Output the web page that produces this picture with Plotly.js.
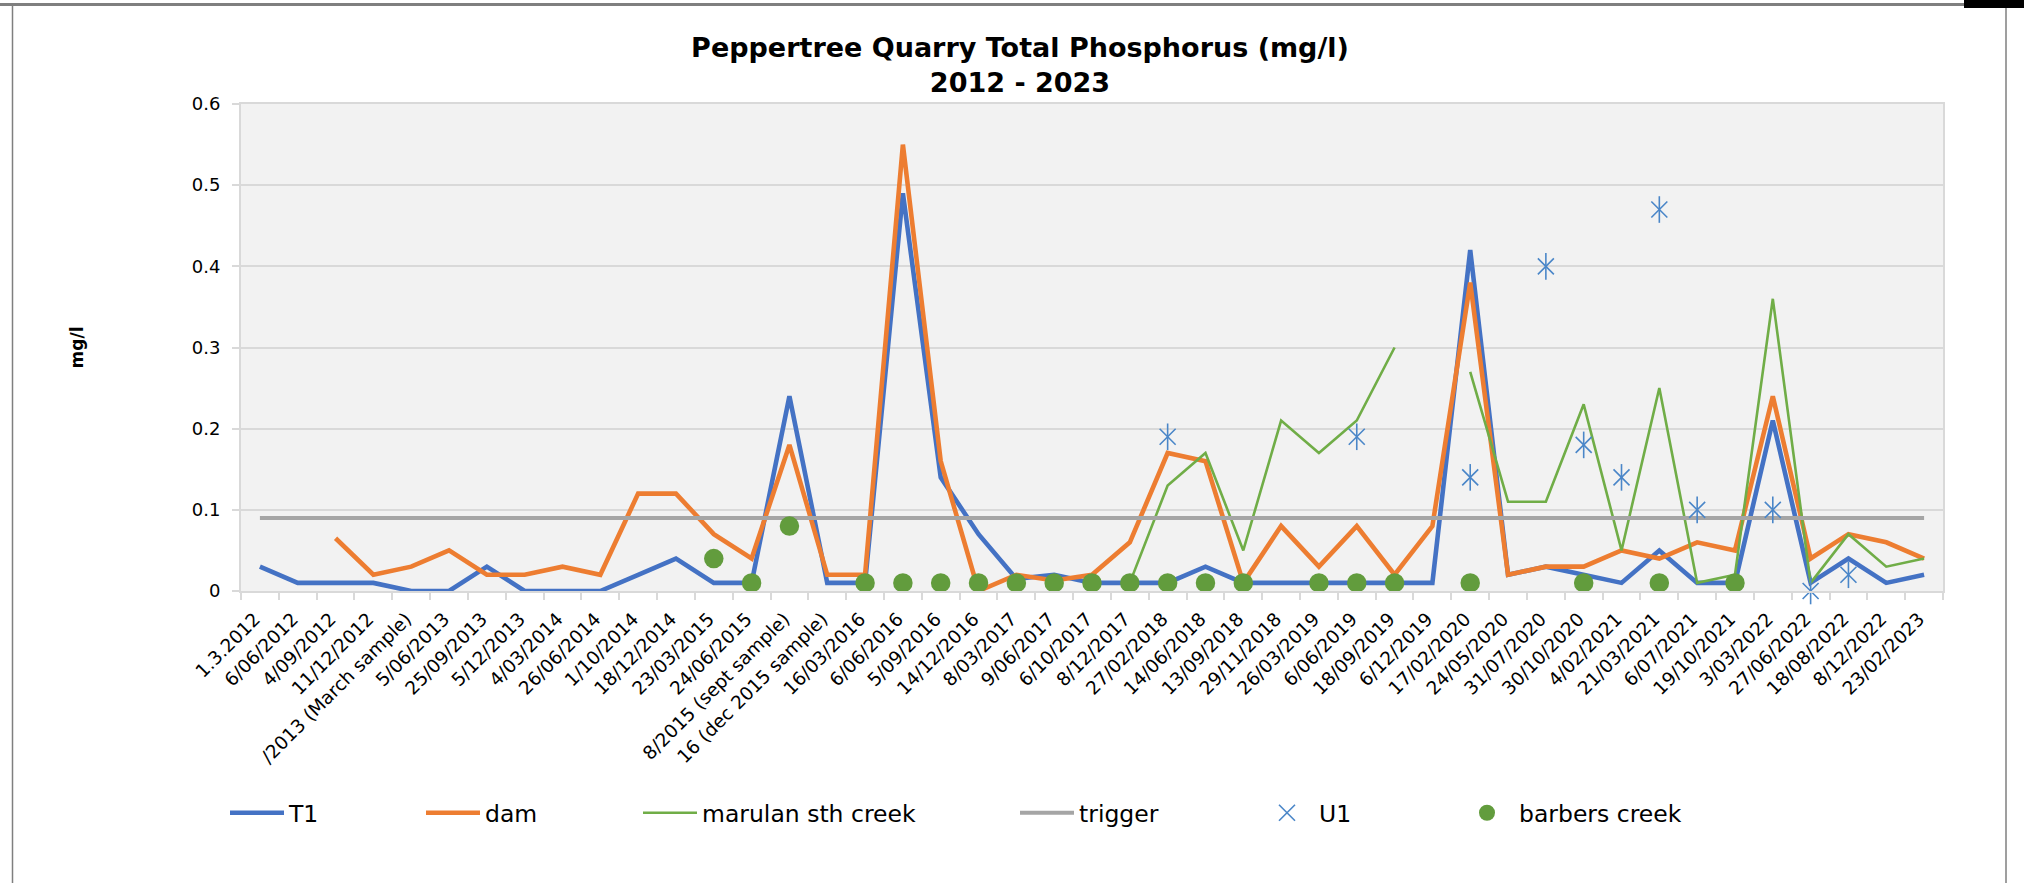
<!DOCTYPE html>
<html>
<head>
<meta charset="utf-8">
<script src="https://cdn.plot.ly/plotly-3.0.1.min.js"></script>
<style>
  html, body { margin: 0; padding: 0; background: #ffffff; }
  #chart { width: 2024px; height: 883px; }
</style>
</head>
<body>
<div id="chart"></div>
<script>
// ---- Data ----
const categories = [
  "1.3.2012", "6/06/2012", "4/09/2012", "11/12/2012", "/2013 (March sample)",
  "5/06/2013", "25/09/2013", "5/12/2013", "4/03/2014", "26/06/2014",
  "1/10/2014", "18/12/2014", "23/03/2015", "24/06/2015", "8/2015 (sept sample)",
  "16 (dec 2015 sample)", "16/03/2016", "6/06/2016", "5/09/2016", "14/12/2016",
  "8/03/2017", "9/06/2017", "6/10/2017", "8/12/2017", "27/02/2018",
  "14/06/2018", "13/09/2018", "29/11/2018", "26/03/2019", "6/06/2019",
  "18/09/2019", "6/12/2019", "17/02/2020", "24/05/2020", "31/07/2020",
  "30/10/2020", "4/02/2021", "21/03/2021", "6/07/2021", "19/10/2021",
  "3/03/2022", "27/06/2022", "18/08/2022", "8/12/2022", "23/02/2023"
];

const t1 = [
  0.03, 0.01, 0.01, 0.01, 0, 0, 0.03, 0, 0, 0,
  0.02, 0.04, 0.01, 0.01, 0.24, 0.01, 0.01, 0.49, 0.14, 0.07,
  0.015, 0.02, 0.01, 0.01, 0.01, 0.03, 0.01, 0.01, 0.01, 0.01,
  0.01, 0.01, 0.42, 0.02, 0.03, 0.02, 0.01, 0.05, 0.01, 0.01,
  0.21, 0.01, 0.04, 0.01, 0.02
];

const dam = [
  null, null, 0.065, 0.02, 0.03, 0.05, 0.02, 0.02, 0.03, 0.02,
  0.12, 0.12, 0.07, 0.04, 0.18, 0.02, 0.02, 0.55, 0.16, 0,
  0.02, 0.013, 0.02, 0.06, 0.17, 0.16, 0.01, 0.08, 0.03, 0.08,
  0.02, 0.08, 0.38, 0.02, 0.03, 0.03, 0.05, 0.04, 0.06, 0.05,
  0.24, 0.04, 0.07, 0.06, 0.04
];

const marulan = [
  null, null, null, null, null, null, null, null, null, null,
  null, null, null, null, null, null, null, null, null, null,
  null, null, null, 0.01, 0.13, 0.17, 0.05, 0.21, 0.17, 0.21,
  0.30, null, 0.27, 0.11, 0.11, 0.23, 0.05, 0.25, 0.01, 0.02,
  0.36, 0.01, 0.07, 0.03, 0.04
];

const trigger = [
  0.09, 0.09, 0.09, 0.09, 0.09, 0.09, 0.09, 0.09, 0.09, 0.09,
  0.09, 0.09, 0.09, 0.09, 0.09, 0.09, 0.09, 0.09, 0.09, 0.09,
  0.09, 0.09, 0.09, 0.09, 0.09, 0.09, 0.09, 0.09, 0.09, 0.09,
  0.09, 0.09, 0.09, 0.09, 0.09, 0.09, 0.09, 0.09, 0.09, 0.09,
  0.09, 0.09, 0.09, 0.09, 0.09
];

const u1 = [
  null, null, null, null, null, null, null, null, null, null,
  null, null, null, null, null, null, null, null, null, null,
  null, null, null, null, 0.19, null, null, null, null, 0.19,
  null, null, 0.14, null, 0.40, 0.18, 0.14, 0.47, 0.10, null,
  0.10, 0, 0.02, null, null
];

const barbers = [
  null, null, null, null, null, null, null, null, null, null,
  null, null, 0.04, 0.01, 0.08, null, 0.01, 0.01, 0.01, 0.01,
  0.01, 0.01, 0.01, 0.01, 0.01, 0.01, 0.01, null, 0.01, 0.01,
  0.01, null, 0.01, null, null, 0.01, null, 0.01, null, 0.01,
  null, null, null, null, null
];

const seriesNames = ["T1", "dam", "marulan sth creek", "trigger", "U1", "barbers creek"];
const titleLines = ["Peppertree Quarry Total Phosphorus (mg/l)", "2012 - 2023"];
const yTitle = "mg/l";

// ---- Layout geometry (pixels) ----
const W = 2024, H = 883;
const plotL = 241, plotR = 1943, plotT = 104, plotB = 591;
const pw = plotR - plotL, ph = plotB - plotT;
const px = v => (v - plotL) / pw;     // pixel x -> paper x
const py = v => (plotB - v) / ph;     // pixel y -> paper y

const FONT = "DejaVu Sans, Liberation Sans, Arial, sans-serif";

const traces = [
  { name: seriesNames[0], x: categories, y: t1, type: "scatter", mode: "lines",
    line: { color: "#4472C4", width: 4.6 }, legend: "legend" },
  { name: seriesNames[1], x: categories, y: dam, type: "scatter", mode: "lines",
    line: { color: "#ED7D31", width: 4.6 }, legend: "legend2" },
  { name: seriesNames[2], x: categories, y: marulan, type: "scatter", mode: "lines",
    connectgaps: false, line: { color: "#70AD47", width: 2.6 }, legend: "legend3" },
  { name: seriesNames[3], x: categories, y: trigger, type: "scatter", mode: "lines",
    line: { color: "#A5A5A5", width: 4 }, legend: "legend4" },
  { name: seriesNames[4], x: categories, y: u1, type: "scatter", mode: "markers",
    cliponaxis: false,
    marker: { symbol: "x-thin-open", size: 16, color: "#4A86C8",
              line: { color: "#4A86C8", width: 1.6 } }, legend: "legend5" },
  { name: seriesNames[4], x: categories, y: u1, type: "scatter", mode: "markers",
    cliponaxis: false, showlegend: false, hoverinfo: "skip",
    marker: { symbol: "line-ns-open", size: 19, color: "#4A86C8",
              line: { color: "#4A86C8", width: 1.6 } } },
  { name: seriesNames[5], x: categories, y: barbers, type: "scatter", mode: "markers",
    cliponaxis: false,
    marker: { symbol: "circle", size: 19.5, color: "#629C3D" }, legend: "legend6" }
];

const legendY = py(813);
function mkLegend(startPx) {
  return {
    x: px(startPx), y: legendY, xanchor: "left", yanchor: "middle",
    orientation: "h", bgcolor: "rgba(0,0,0,0)", borderwidth: 0,
    itemwidth: 54, font: { family: FONT, size: 23.5, color: "#000000" }
  };
}

const greyLine = { color: "#7F7F7F", width: 1.5 };
const shapes = [
  // outer chart border
  { type: "line", xref: "paper", yref: "paper", x0: px(0), x1: px(W), y0: py(4.5), y1: py(4.5),
    line: { color: "#7F7F7F", width: 3 }, layer: "above" },
  { type: "line", xref: "paper", yref: "paper", x0: px(12.5), x1: px(12.5), y0: py(4.5), y1: py(H + 5),
    line: greyLine, layer: "above" },
  { type: "line", xref: "paper", yref: "paper", x0: px(2006), x1: px(2006), y0: py(4.5), y1: py(H + 5),
    line: greyLine, layer: "above" },
  { type: "rect", xref: "paper", yref: "paper", x0: px(1964), x1: px(W + 2), y0: py(-2), y1: py(8),
    fillcolor: "#000000", line: { width: 0 }, layer: "above" }
];

const layout = {
  width: W, height: H,
  margin: { l: plotL, r: W - plotR, t: plotT, b: H - plotB, autoexpand: false },
  paper_bgcolor: "#FFFFFF",
  plot_bgcolor: "#F2F2F2",
  font: { family: FONT, size: 18, color: "#000000" },
  title: {
    text: "<b>" + titleLines[0] + "</b><br><b>" + titleLines[1] + "</b>",
    font: { family: FONT, size: 27, color: "#000000" },
    x: 1020 / W, xref: "container", xanchor: "center",
    y: 1 - 57 / H, yref: "container", yanchor: "top"
  },
  xaxis: {
    type: "category", automargin: false, autorange: false,
    range: [-0.5, categories.length - 0.5],
    tickangle: -45, tickson: "boundaries",
    ticks: "outside", ticklen: 7, tickwidth: 1.5, tickcolor: "#D9D9D9",
    ticklabelstandoff: 8, ticklabelshift: -5,
    showline: true, linecolor: "#D9D9D9", linewidth: 2, mirror: true,
    showgrid: false, zeroline: false,
    tickfont: { family: FONT, size: 18.5, color: "#000000" }
  },
  yaxis: {
    range: [0, 0.6], autorange: false, dtick: 0.1, tick0: 0, automargin: false,
    ticks: "outside", ticklen: 7, tickwidth: 1.5, tickcolor: "#D9D9D9",
    ticklabelstandoff: 8,
    showline: true, linecolor: "#D9D9D9", linewidth: 2, mirror: true,
    showgrid: true, gridcolor: "#D9D9D9", gridwidth: 2, zeroline: false,
    tickfont: { family: FONT, size: 18, color: "#000000" },
    title: { text: "<b>" + yTitle + "</b>", standoff: 104,
             font: { family: FONT, size: 17, color: "#000000" } }
  },
  legend: mkLegend(225),
  legend2: mkLegend(421),
  legend3: mkLegend(638),
  legend4: mkLegend(1015),
  legend5: mkLegend(1255),
  legend6: mkLegend(1455),
  shapes: shapes,
  showlegend: true
};

Plotly.newPlot("chart", traces, layout, { displayModeBar: false, responsive: false });
</script>
</body>
</html>
